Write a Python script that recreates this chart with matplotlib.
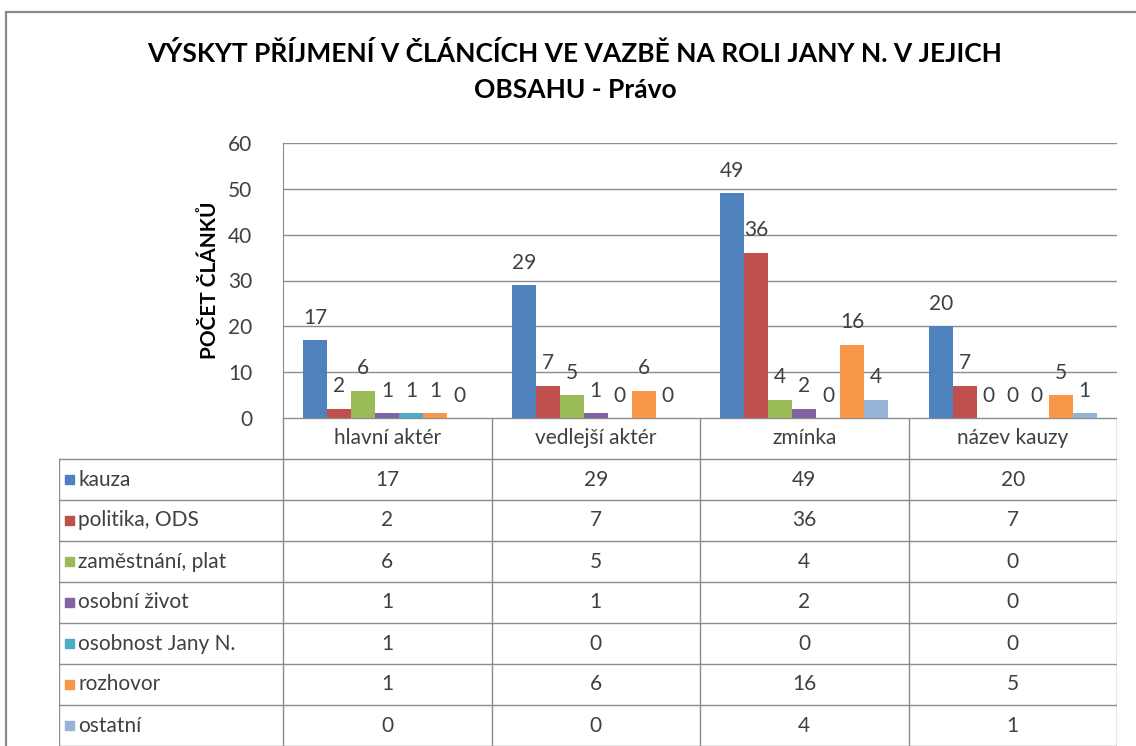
import matplotlib
matplotlib.use("Agg")
import matplotlib.pyplot as plt
import numpy as np
from matplotlib.patches import Rectangle

plt.rcParams['font.family'] = ['Lato', 'DejaVu Sans']

# data
categories = ["hlavní aktér", "vedlejší aktér", "zmínka", "název kauzy"]
series_names = ["kauza", "politika, ODS", "zaměstnání, plat", "osobní život",
                "osobnost Jany N.", "rozhovor", "ostatní"]
kauza = [17, 29, 49, 20]
politika = [2, 7, 36, 7]
zamestnani = [6, 5, 4, 0]
osobni_zivot = [1, 1, 2, 0]
osobnost = [1, 0, 0, 0]
rozhovor = [1, 6, 16, 5]
ostatni = [0, 0, 4, 1]
series_values = [kauza, politika, zamestnani, osobni_zivot, osobnost, rozhovor, ostatni]
colors = ["#4F81BD", "#C0504D", "#9BBB59", "#8064A2", "#4BACC6", "#F79646", "#95B3D7"]
yticks = [0, 10, 20, 30, 40, 50, 60]

title = "VÝSKYT PŘÍJMENÍ V ČLÁNCÍCH VE VAZBĚ NA ROLI JANY N. V JEJICH\nOBSAHU - Právo"
ylabel = "POČET ČLÁNKŮ"

W, H = 1136, 746
fig = plt.figure(figsize=(W / 100, H / 100), dpi=100)
grid_c = "#8C8C8C"
txt_c = "#404040"
fs = 15

# outer chart border (only top/left visible)
fig.patches.append(Rectangle((6 / W, -0.1), 1.2, 1 - 12 / H + 0.1, transform=fig.transFigure,
                             fill=False, ec="#8A8A8A", lw=1.6))

# bar chart
px_l, px_r, px_t, px_b = 283, 1117, 143, 418
ax = fig.add_axes([px_l / W, 1 - px_b / H, (px_r - px_l) / W, (px_b - px_t) / H])
x = np.arange(len(categories))
bw = 0.115
n = len(series_values)
for i, (vals, c) in enumerate(zip(series_values, colors)):
    bars = ax.bar(x + (i - (n - 1) / 2) * bw, vals, bw, color=c, zorder=3)
    ax.bar_label(bars, labels=[str(v) for v in vals], padding=9, fontsize=fs, color=txt_c)
ax.set_xlim(-0.5, len(categories) - 0.5)
ax.set_ylim(0, 60)
ax.set_yticks(yticks)
ax.set_xticks([])
ax.tick_params(axis='y', length=0, pad=22, labelsize=fs, labelcolor=txt_c)
ax.yaxis.grid(True, color=grid_c, lw=1)
for s in ["top", "right", "bottom"]:
    ax.spines[s].set_visible(False)
ax.spines["left"].set_color(grid_c)
ax.set_ylabel(ylabel, fontsize=fs, fontweight="bold", color="black", labelpad=6)

fig.text(575 / W, 1 - 72 / H, title, ha="center", va="center", fontsize=19,
         fontweight="bold", linespacing=1.6)

# data table below
tab_l, tab_t = 59, 418
tax = fig.add_axes([tab_l / W, 0, (px_r - tab_l) / W, (H - tab_t) / H])
unit = (px_r - px_l) / len(categories)
x0 = -0.5 - (px_l - tab_l) / unit
tax.set_xlim(x0, len(categories) - 0.5)
nrows = len(series_names) + 1
tax.set_ylim(nrows, 0)
tax.axis("off")
lk = dict(color=grid_c, lw=1)
# header row
tax.plot([-0.5, len(categories) - 0.5], [0, 0], **lk)
for j, cat in enumerate(categories):
    tax.text(j, 0.5, cat, ha="center", va="center", fontsize=fs, color=txt_c)
for j in range(len(categories) + 1):
    tax.plot([j - 0.5, j - 0.5], [0, nrows], **lk)
# data rows
for r in range(1, nrows + 1):
    tax.plot([x0, len(categories) - 0.5], [r, r], **lk)
tax.plot([x0, x0], [1, nrows], **lk)
key_w = 9 / unit
for i, (name, vals, c) in enumerate(zip(series_names, series_values, colors)):
    yc = i + 1.5
    tax.add_patch(Rectangle((x0 + 6 / unit, yc - 0.11), key_w, 0.22, color=c))
    tax.text(x0 + 19 / unit, yc, name, ha="left", va="center", fontsize=fs, color=txt_c)
    for j, v in enumerate(vals):
        tax.text(j, yc, str(v), ha="center", va="center", fontsize=fs, color=txt_c)

fig.savefig("out.png", dpi=100)
